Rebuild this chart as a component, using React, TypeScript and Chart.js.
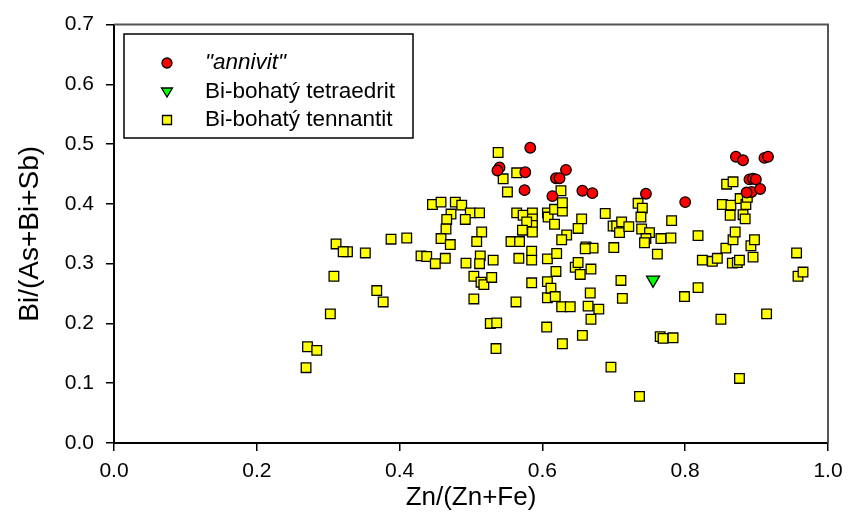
import React, { useEffect, useRef } from "react";
import { Chart, registerables } from "chart.js";

Chart.register(...registerables);

// ---- data ----
const annivitX = [0.540, 0.537, 0.576, 0.575, 0.583, 0.633, 0.619, 0.624, 0.614, 0.656, 0.670, 0.745, 0.800, 0.871, 0.881, 0.911, 0.916, 0.890, 0.895, 0.899, 0.893, 0.886, 0.905];
const annivitY = [0.461, 0.456, 0.453, 0.423, 0.494, 0.457, 0.443, 0.443, 0.413, 0.422, 0.418, 0.417, 0.403, 0.479, 0.473, 0.477, 0.479, 0.441, 0.442, 0.441, 0.420, 0.419, 0.425];

const tetraedritX = [0.755];
const tetraedritY = [0.273];

const tennantitX = [
  0.538, 0.545, 0.564, 0.551, 0.446, 0.458, 0.478, 0.487, 0.499, 0.512, 0.472, 0.466, 0.492, 0.465, 0.458, 0.471, 0.515, 0.508,
  0.564, 0.573, 0.586, 0.586, 0.586, 0.578, 0.572, 0.586, 0.556, 0.568, 0.585, 0.585, 0.567, 0.607, 0.607, 0.311, 0.327, 0.321,
  0.352, 0.388, 0.410, 0.308, 0.303, 0.271, 0.284, 0.269, 0.368, 0.377, 0.430, 0.438, 0.450, 0.464, 0.493, 0.513, 0.512, 0.531,
  0.504, 0.514, 0.518, 0.529, 0.504, 0.563, 0.585, 0.527, 0.536, 0.535, 0.606, 0.607, 0.607,
  0.608, 0.617, 0.628, 0.628, 0.626, 0.617, 0.655, 0.650, 0.634, 0.627, 0.661, 0.671, 0.660, 0.620, 0.619, 0.612, 0.618, 0.627,
  0.639, 0.646, 0.650, 0.653, 0.668, 0.667, 0.664, 0.679, 0.668, 0.628, 0.656, 0.688, 0.699, 0.704, 0.711, 0.708, 0.721, 0.734,
  0.740, 0.738, 0.739, 0.750, 0.745, 0.743, 0.766, 0.780, 0.781, 0.761, 0.700, 0.710, 0.712, 0.696, 0.736, 0.765, 0.769, 0.783,
  0.799, 0.818, 0.818, 0.824, 0.838, 0.845, 0.850, 0.857, 0.867, 0.870, 0.866, 0.873, 0.876, 0.892, 0.897, 0.895, 0.876, 0.914,
  0.956, 0.958, 0.965, 0.852, 0.858, 0.867, 0.864, 0.863, 0.877, 0.885, 0.881, 0.884, 0.887,
];
const tennantitY = [
  0.486, 0.442, 0.452, 0.420, 0.399, 0.403, 0.403, 0.398, 0.385, 0.385, 0.383, 0.374, 0.374, 0.358, 0.342, 0.332, 0.353, 0.337,
  0.385, 0.381, 0.385, 0.375, 0.364, 0.370, 0.356, 0.353, 0.337, 0.337, 0.321, 0.306, 0.309, 0.385, 0.308, 0.333, 0.320, 0.320,
  0.318, 0.341, 0.343, 0.279, 0.216, 0.161, 0.155, 0.126, 0.255, 0.236, 0.313, 0.312, 0.300, 0.309, 0.301, 0.313, 0.300, 0.306,
  0.279, 0.269, 0.265, 0.277, 0.241, 0.236, 0.268, 0.200, 0.201, 0.158, 0.194, 0.270, 0.243,
  0.378, 0.391, 0.388, 0.402, 0.422, 0.366, 0.375, 0.359, 0.348, 0.340, 0.328, 0.326, 0.325, 0.317, 0.287, 0.259, 0.245, 0.228,
  0.228, 0.294, 0.302, 0.282, 0.291, 0.251, 0.229, 0.224, 0.207, 0.166, 0.180, 0.384, 0.363, 0.363, 0.370, 0.352, 0.362, 0.401,
  0.393, 0.378, 0.358, 0.352, 0.342, 0.335, 0.342, 0.343, 0.372, 0.316, 0.327, 0.272, 0.242, 0.127, 0.078, 0.178, 0.175, 0.176,
  0.245, 0.260, 0.347, 0.306, 0.304, 0.309, 0.207, 0.326, 0.340, 0.353, 0.301, 0.302, 0.306, 0.330, 0.340, 0.311, 0.108, 0.216,
  0.318, 0.279, 0.286, 0.399, 0.433, 0.437, 0.398, 0.381, 0.409, 0.399, 0.382, 0.375, 0.411,
];

const seriesLabels = ['"annivit"', "Bi-bohatý tetraedrit", "Bi-bohatý tennantit"];
const xTitle = "Zn/(Zn+Fe)";
const yTitle = "Bi/(As+Bi+Sb)";
const xRange = [0, 1.0];
const yRange = [0, 0.7];
const xStep = 0.2;
const yStep = 0.1;

const FONT = "'Liberation Sans', Arial, Helvetica, sans-serif";

function toPoints(xs: number[], ys: number[]) {
  return xs.map((x, i) => ({ x, y: ys[i] }));
}

const framePlugin = {
  id: "frameAndLegend",
  afterDraw(chart: any) {
    const { ctx, chartArea } = chart;
    const { left, right, top, bottom } = chartArea;
    ctx.save();
    // top/right frame
    ctx.strokeStyle = "#555";
    ctx.lineWidth = 2;
    ctx.beginPath();
    ctx.moveTo(left, top);
    ctx.lineTo(right, top);
    ctx.lineTo(right, bottom);
    ctx.stroke();

    // legend
    const bx = 124, by = 34, bw = 289, bh = 104;
    ctx.strokeStyle = "#000";
    ctx.lineWidth = 1.5;
    ctx.strokeRect(bx, by, bw, bh);

    const mx = 167;
    const tx = 205;
    const rows = [63, 92, 120];
    ctx.lineWidth = 1.3;
    // circle
    ctx.beginPath();
    ctx.arc(mx, rows[0], 5, 0, Math.PI * 2);
    ctx.fillStyle = "#ff0000";
    ctx.fill();
    ctx.strokeStyle = "#000";
    ctx.stroke();
    // triangle down
    ctx.beginPath();
    ctx.moveTo(mx - 5.5, rows[1] - 4);
    ctx.lineTo(mx + 5.5, rows[1] - 4);
    ctx.lineTo(mx, rows[1] + 5);
    ctx.closePath();
    ctx.fillStyle = "#00ff00";
    ctx.fill();
    ctx.stroke();
    // square
    ctx.beginPath();
    ctx.rect(mx - 4.5, rows[2] - 4.5, 9, 9);
    ctx.fillStyle = "#ffff00";
    ctx.fill();
    ctx.stroke();

    ctx.fillStyle = "#000";
    ctx.textBaseline = "middle";
    ctx.textAlign = "left";
    ctx.font = `italic 22.5px ${FONT}`;
    ctx.fillText(seriesLabels[0], tx, rows[0]);
    ctx.font = `22.5px ${FONT}`;
    ctx.fillText(seriesLabels[1], tx, rows[1]);
    ctx.fillText(seriesLabels[2], tx, rows[2]);
    ctx.restore();
  },
};

export default function App() {
  const ref = useRef<HTMLCanvasElement | null>(null);

  useEffect(() => {
    if (!ref.current) return;
    const chart = new Chart(ref.current, {
      type: "scatter",
      data: {
        datasets: [
          {
            label: seriesLabels[0],
            data: toPoints(annivitX, annivitY),
            pointStyle: "circle",
            pointRadius: 5.3,
            backgroundColor: "#ff0000",
            borderColor: "#000",
            borderWidth: 1.3,
          },
          {
            label: seriesLabels[1],
            data: toPoints(tetraedritX, tetraedritY),
            pointStyle: "triangle",
            rotation: 180,
            pointRadius: 7.5,
            backgroundColor: "#00ff00",
            borderColor: "#000",
            borderWidth: 1.3,
          },
          {
            label: seriesLabels[2],
            data: toPoints(tennantitX, tennantitY),
            pointStyle: "rect",
            pointRadius: 6.8,
            backgroundColor: "#ffff00",
            borderColor: "#000",
            borderWidth: 1.3,
          },
        ],
      },
      options: {
        responsive: false,
        animation: false,
        devicePixelRatio: 1,
        layout: { padding: { top: 21, right: 34, left: 0, bottom: 0 } },
        plugins: {
          legend: { display: false },
          tooltip: { enabled: false },
        },
        scales: {
          x: {
            type: "linear",
            min: xRange[0],
            max: xRange[1],
            ticks: {
              stepSize: xStep,
              callback: (v: any) => Number(v).toFixed(1),
              font: { family: FONT, size: 21 },
              color: "#000",
              padding: 8,
              maxRotation: 0,
            },
            grid: { drawOnChartArea: false, drawTicks: true, tickLength: 8, color: "#000", lineWidth: 1.5 },
            border: { display: true, color: "#000", width: 2 },
            title: { display: true, text: xTitle, font: { family: FONT, size: 26 }, color: "#000", padding: { top: 0, bottom: 0 } },
            afterFit: (s: any) => { s.height = 70; },
          },
          y: {
            type: "linear",
            min: yRange[0],
            max: yRange[1],
            ticks: {
              stepSize: yStep,
              callback: (v: any) => Number(v).toFixed(1),
              font: { family: FONT, size: 21 },
              color: "#000",
              padding: 12,
            },
            grid: { drawOnChartArea: false, drawTicks: true, tickLength: 8, color: "#000", lineWidth: 1.5 },
            border: { display: true, color: "#000", width: 2 },
            title: { display: true, text: yTitle, font: { family: FONT, size: 28 }, color: "#000", padding: { top: 13, bottom: 0 } },
            afterFit: (s: any) => { s.width = 114; },
          },
        },
      },
      plugins: [framePlugin],
    });
    return () => chart.destroy();
  }, []);

  return (
    <div style={{ position: "absolute", left: 0, top: 0, width: 862, height: 513, background: "#fff" }}>
      <canvas ref={ref} width={862} height={513} style={{ display: "block" }} />
    </div>
  );
}
